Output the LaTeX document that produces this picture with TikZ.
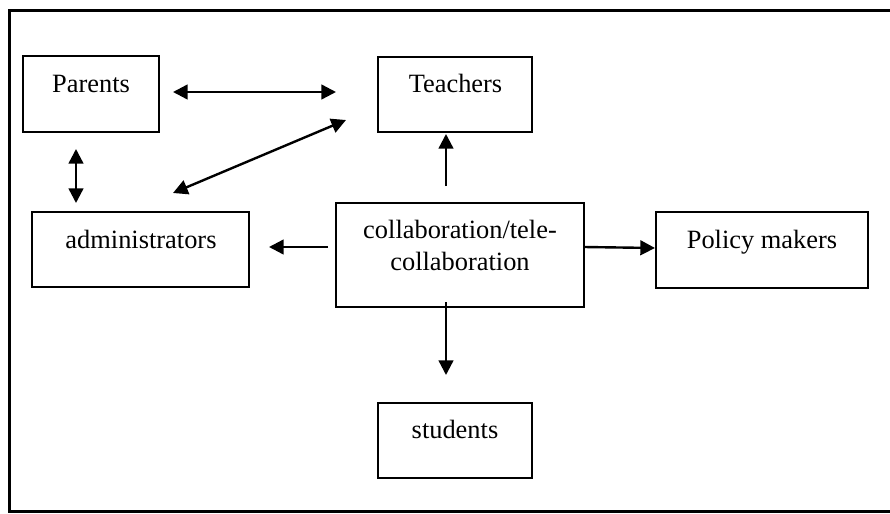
\documentclass[tikz,border=0pt]{standalone}
\usepackage{fontspec}
\setmainfont{Liberation Serif}
\usetikzlibrary{arrows.meta}

\begin{document}
\begin{tikzpicture}[x=0.75pt, y=-0.75pt,
  box/.style={draw, line width=1.5pt, rectangle, inner sep=0pt},
  lbl/.style={anchor=base, inner sep=0pt, font=\fontsize{19.8}{24}\selectfont},
  link/.style={line width=1.8pt, -{Triangle[length=11pt, width=11pt]}},
  both/.style={line width=1.8pt, {Triangle[length=11pt, width=11pt]}-{Triangle[length=11pt, width=11pt]}}]

  \useasboundingbox (0,0) rectangle (890,514);
  \clip (0,0) rectangle (890,514);

  % open frame: top, left and bottom edges
  \draw[line width=2.2pt] (892,10.5) -- (9.5,10.5) -- (9.5,511.5) -- (892,511.5);

  % boxes
  \node[box, minimum width=136*0.75pt, minimum height=76*0.75pt] (parents) at (91,94) {};
  \node[box, minimum width=154*0.75pt, minimum height=75*0.75pt] (teachers) at (455,94.5) {};
  \node[box, minimum width=217*0.75pt, minimum height=75*0.75pt] (admin) at (140.5,249.5) {};
  \node[box, minimum width=248*0.75pt, minimum height=104*0.75pt] (collab) at (460,255) {};
  \node[box, minimum width=212*0.75pt, minimum height=76*0.75pt] (policy) at (762,250) {};
  \node[box, minimum width=154*0.75pt, minimum height=75*0.75pt] (students) at (455,440.5) {};

  % texts
  \node[lbl] (parents-t) at (91,92) {Parents};
  \node[lbl] (teachers-t) at (455.5,92) {Teachers};
  \node[lbl] (admin-t) at (141,248) {administrators};
  \node[lbl] (collab-t1) at (460,238) {collaboration/tele-};
  \node[lbl] (collab-t2) at (460,270) {collaboration};
  \node[lbl] (policy-t) at (762,248) {Policy makers};
  \node[lbl] (students-t) at (455,438) {students};

  % free ends of the connectors
  \coordinate (pt-a) at (173,92);
  \coordinate (pt-b) at (336,92);
  \coordinate (ad-a) at (173,193);
  \coordinate (ad-b) at (346,120);
  \coordinate (pa-a) at (76,149);
  \coordinate (pa-b) at (76,203);
  \coordinate (up-a) at (446,186);
  \coordinate (up-b) at (446,134);
  \coordinate (lf-a) at (328,247);
  \coordinate (lf-b) at (269,247);
  \coordinate (rt-a) at (584,247);
  \coordinate (dn-a) at (446,302);
  \coordinate (dn-b) at (446,375);

  % connectors
  \draw[both] (pt-a) -- (pt-b);
  \draw[both] (ad-a) -- (ad-b);
  \draw[both] (pa-a) -- (pa-b);
  \draw[link] (up-a) -- (up-b);
  \draw[link] (lf-a) -- (lf-b);
  \draw[link] (rt-a) -- (policy.west |- 0,248);
  \draw[link] (dn-a) -- (dn-b);
\end{tikzpicture}
\end{document}
